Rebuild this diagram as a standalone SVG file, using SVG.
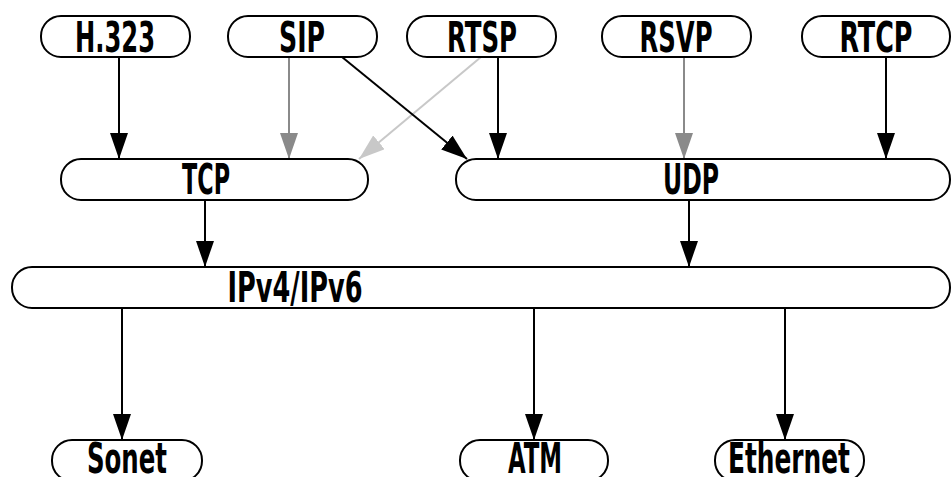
<svg xmlns="http://www.w3.org/2000/svg" width="952" height="477" viewBox="0 0 952 477">
<style>
.n rect{fill:#fff;stroke:#000;stroke-width:2}
.n text{font-family:"DejaVu Sans Condensed","DejaVu Sans",sans-serif;font-weight:bold;font-size:42px;fill:#000;text-anchor:middle}
.c line{stroke-width:2;fill:none}
.k{stroke:#000}
.g{stroke:#8a8a8a}
.l{stroke:#c8c8c8}
</style>
<defs>
<marker id="ak" viewBox="0 0 26 18" refX="26" refY="9" markerWidth="26" markerHeight="18" markerUnits="userSpaceOnUse" orient="auto"><path d="M0,0 L26,9 L0,18 z" fill="#000"/></marker>
<marker id="ag" viewBox="0 0 26 18" refX="26" refY="9" markerWidth="26" markerHeight="18" markerUnits="userSpaceOnUse" orient="auto"><path d="M0,0 L26,9 L0,18 z" fill="#8a8a8a"/></marker>
<marker id="al" viewBox="0 0 26 18" refX="26" refY="9" markerWidth="26" markerHeight="18" markerUnits="userSpaceOnUse" orient="auto"><path d="M0,0 L26,9 L0,18 z" fill="#c8c8c8"/></marker>
</defs>
<rect width="952" height="477" fill="#fff"/>
<g id="connectors" class="c">
<line class="k" x1="119" y1="57" x2="119" y2="159" marker-end="url(#ak)"/>
<line class="g" x1="289" y1="57" x2="289" y2="159" marker-end="url(#ag)"/>
<line class="l" x1="481" y1="57" x2="359" y2="159" marker-end="url(#al)"/>
<line class="k" x1="342" y1="57" x2="467" y2="159" marker-end="url(#ak)"/>
<line class="k" x1="498" y1="57" x2="498" y2="159" marker-end="url(#ak)"/>
<line class="g" x1="684" y1="57" x2="684" y2="159" marker-end="url(#ag)"/>
<line class="k" x1="886" y1="57" x2="886" y2="159" marker-end="url(#ak)"/>
<line class="k" x1="205" y1="200" x2="205" y2="267" marker-end="url(#ak)"/>
<line class="k" x1="689" y1="200" x2="689" y2="267" marker-end="url(#ak)"/>
<line class="k" x1="122" y1="308" x2="122" y2="440" marker-end="url(#ak)"/>
<line class="k" x1="534" y1="308" x2="534" y2="440" marker-end="url(#ak)"/>
<line class="k" x1="785" y1="308" x2="785" y2="440" marker-end="url(#ak)"/>
</g>
<g id="h323" class="n"><rect x="41" y="16" width="149" height="41" rx="20"/><text x="115" y="52" textLength="80" lengthAdjust="spacingAndGlyphs">H.323</text></g>
<g id="sip" class="n"><rect x="228" y="16" width="149" height="41" rx="20"/><text x="302" y="52" textLength="46" lengthAdjust="spacingAndGlyphs">SIP</text></g>
<g id="rtsp" class="n"><rect x="407" y="16" width="149" height="41" rx="20"/><text x="482" y="52" textLength="70" lengthAdjust="spacingAndGlyphs">RTSP</text></g>
<g id="rsvp" class="n"><rect x="602" y="16" width="149" height="41" rx="20"/><text x="676" y="52" textLength="73" lengthAdjust="spacingAndGlyphs">RSVP</text></g>
<g id="rtcp" class="n"><rect x="802" y="16" width="148" height="41" rx="20"/><text x="876" y="52" textLength="73" lengthAdjust="spacingAndGlyphs">RTCP</text></g>
<g id="tcp" class="n"><rect x="61" y="159" width="307" height="41" rx="20"/><text x="206" y="194" textLength="48" lengthAdjust="spacingAndGlyphs">TCP</text></g>
<g id="udp" class="n"><rect x="456" y="159" width="494" height="41" rx="20"/><text x="691" y="194" textLength="56" lengthAdjust="spacingAndGlyphs">UDP</text></g>
<g id="ip" class="n"><rect x="12" y="267" width="938" height="41" rx="20"/><text x="295" y="302" textLength="135" lengthAdjust="spacingAndGlyphs">IPv4/IPv6</text></g>
<g id="sonet" class="n"><rect x="52" y="440" width="150" height="41" rx="20"/><text x="127" y="473" textLength="80" lengthAdjust="spacingAndGlyphs">Sonet</text></g>
<g id="atm" class="n"><rect x="460" y="440" width="148" height="41" rx="20"/><text x="535" y="473" textLength="54" lengthAdjust="spacingAndGlyphs">ATM</text></g>
<g id="ethernet" class="n"><rect x="715" y="440" width="149" height="41" rx="20"/><text x="789" y="473" textLength="122" lengthAdjust="spacingAndGlyphs">Ethernet</text></g>
</svg>
